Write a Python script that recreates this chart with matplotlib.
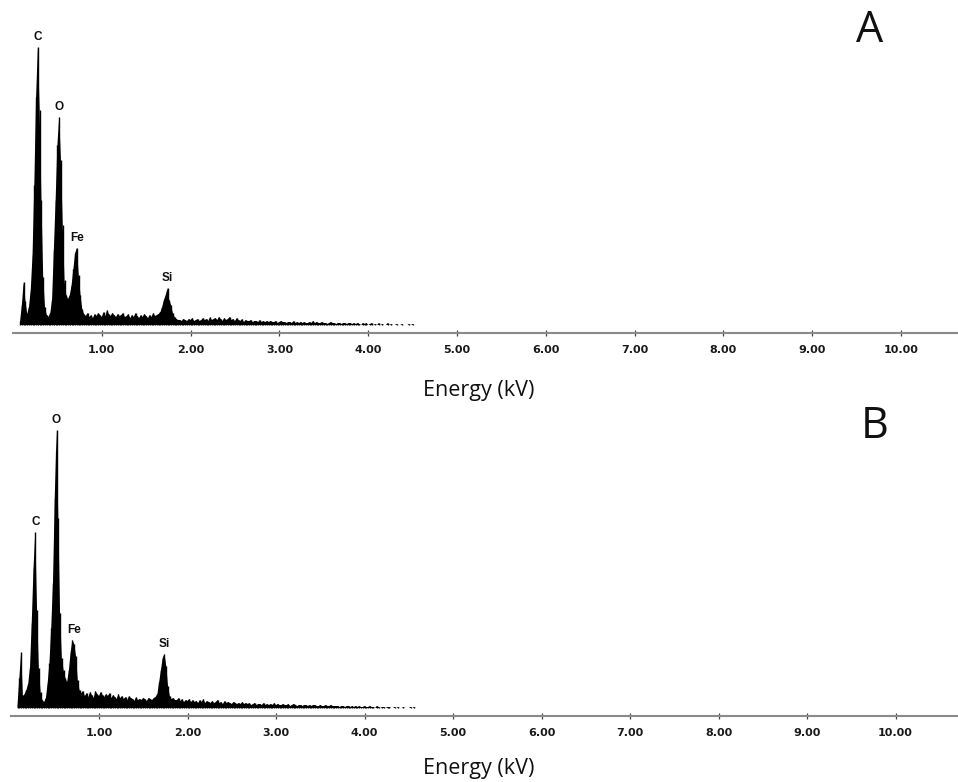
"""EDS spectra of the two samples (panels A and B)."""

import matplotlib

matplotlib.use("Agg")
import matplotlib.pyplot as plt
import numpy as np

# channel grid of the spectra (kV)
ENERGY_START = 0.08
ENERGY_STEP = 0.02

# counts per channel (arbitrary units), 0.08 .. 4.58 kV
COUNTS_A = [
    4, 20, 43, 24, 11, 18, 35, 70, 140, 228,
    278, 215, 125, 48, 18, 10, 8, 12, 25, 75,
    125, 180, 208, 165, 100, 45, 30, 26, 30, 40,
    56, 72, 77, 50, 30, 16, 11, 9, 12, 8,
    10, 7, 11, 9, 12, 10, 8, 13, 9, 15,
    11, 9, 12, 10, 8, 11, 9, 10, 12, 8,
    9, 11, 7, 10, 8, 12, 9, 7, 10, 8,
    11, 9, 7, 10, 8, 12, 9, 10, 11, 13,
    18, 25, 30, 37, 25, 20, 12, 8, 6, 5,
    5, 4, 6, 5, 4, 6, 5, 7, 4, 5,
    6, 4, 5, 7, 5, 6, 4, 8, 5, 6,
    7, 5, 8, 6, 4, 7, 5, 6, 8, 5,
    6, 4, 7, 5, 4, 6, 3, 5, 4, 4,
    5, 3, 4, 4, 3, 5, 3, 4, 3, 4,
    3, 4, 3, 3, 4, 2, 3, 4, 3, 3,
    2, 3, 3, 2, 4, 2, 3, 2, 3, 2,
    3, 2, 2, 3, 2, 4, 2, 3, 2, 2,
    3, 2, 2, 1, 2, 3, 2, 2, 1, 2,
    2, 1, 2, 2, 1, 2, 2, 1, 2, 1,
    2, 1, 0, 2, 1, 2, 0, 1, 2, 0,
    1, 0, 2, 0, 1, 0, 0, 2, 0, 1,
    0, 0, 1, 0, 0, 1, 0, 0, 0, 1,
    0, 1, 0, 0, 0, 0,
]

COUNTS_B = [
    4, 30, 56, 12, 14, 18, 24, 40, 85, 140,
    176, 98, 40, 16, 8, 6, 10, 25, 45, 80,
    125, 210, 278, 190, 95, 50, 38, 30, 26, 38,
    56, 68, 64, 52, 28, 18, 15, 17, 12, 15,
    11, 16, 13, 10, 17, 14, 12, 16, 13, 11,
    14, 12, 15, 10, 13, 11, 9, 14, 10, 12,
    9, 11, 8, 12, 10, 9, 7, 11, 8, 9,
    8, 10, 9, 7, 10, 9, 8, 10, 11, 14,
    26, 38, 50, 54, 42, 22, 12, 9, 10, 8,
    8, 10, 7, 9, 6, 8, 7, 9, 6, 8,
    6, 7, 5, 8, 6, 9, 5, 7, 6, 5,
    7, 5, 6, 8, 5, 6, 4, 7, 5, 6,
    5, 4, 6, 5, 4, 5, 4, 6, 4, 5,
    4, 5, 3, 4, 5, 3, 4, 4, 3, 5,
    3, 4, 3, 4, 3, 5, 3, 4, 3, 3,
    4, 3, 3, 4, 2, 3, 4, 3, 2, 3,
    3, 2, 3, 3, 2, 3, 2, 3, 3, 2,
    2, 3, 2, 2, 3, 2, 2, 3, 2, 2,
    2, 2, 1, 2, 2, 1, 2, 2, 1, 2,
    1, 2, 1, 2, 1, 1, 2, 1, 1, 2,
    1, 1, 0, 2, 1, 0, 1, 1, 0, 1,
    1, 0, 0, 1, 0, 1, 0, 0, 1, 0,
    0, 0, 1, 0, 1, 0,
]

ELEMENTS = ["C", "O", "Fe", "Si"]
ELEMENT_ENERGY = [0.28, 0.52, 0.72, 1.74]

TICKS = [1, 2, 3, 4, 5, 6, 7, 8, 9, 10]
TICK_LABELS = [f"{t:.2f}" for t in TICKS]

W, H = 958, 782
TICK_FONT = ["DejaVu Sans Condensed", "Liberation Sans Narrow", "DejaVu Sans"]


def px_box(left, top, right, bottom):
    return [left / W, 1 - bottom / H, (right - left) / W, (bottom - top) / H]


def draw_panel(fig, box, counts, xmax, ylim, letter, letter_xy, label_y):
    ax = fig.add_axes(box)
    energy = ENERGY_START + ENERGY_STEP * np.arange(len(counts))
    counts = np.array(counts, dtype=float)
    # keep the fill off the empty channels of the tail, so it stays dotted
    ax.fill_between(energy, counts, where=np.convolve(counts > 0, [1, 1, 1], "same") > 0,
                    interpolate=False, color="black", linewidth=0)
    ax.vlines(energy[counts > 0], 0, counts[counts > 0], color="black", linewidth=1.0)

    for name, e in zip(ELEMENTS, ELEMENT_ENERGY):
        near = np.abs(energy - e) < 0.03
        peak = counts[near].max()
        ax.annotate(name, xy=(e, peak), xytext=(0, 3), textcoords="offset points",
                    ha="center", va="bottom", fontsize=8.5, fontweight="bold",
                    family=["Liberation Sans", "DejaVu Sans"], color="#111111")

    ax.set_xlim(0, xmax)
    ax.set_ylim(*ylim)
    ax.set_yticks([])
    ax.set_xticks(TICKS)
    ax.set_xticklabels(TICK_LABELS, fontsize=8, fontweight="bold", family=TICK_FONT,
                       color="#1a1a1a")
    ax.tick_params(axis="x", direction="inout", length=5, width=0.9, color="#444444",
                   pad=6)
    for side in ["top", "right", "left"]:
        ax.spines[side].set_visible(False)
    ax.spines["bottom"].set_color("#8a8a8a")
    ax.spines["bottom"].set_linewidth(1.5)
    ax.patch.set_alpha(0)

    fig.text(479 / W, 1 - label_y / H, "Energy (kV)", ha="center", va="baseline",
             fontsize=15.5, family=["Open Sans", "DejaVu Sans"], color="#111111")
    fig.text(letter_xy[0] / W, 1 - letter_xy[1] / H, letter, ha="center", va="center",
             fontsize=31, family=["Open Sans", "DejaVu Sans"], color="#111111")
    return ax


def main():
    fig = plt.figure(figsize=(W / 100, H / 100), dpi=100)
    fig.patch.set_facecolor("white")

    draw_panel(fig, px_box(13, 30, W, 333), COUNTS_A, (W - 13) / 88.8, (-8, 295),
               "A", (870, 31), 396)
    draw_panel(fig, px_box(10.5, 410, W, 716), COUNTS_B, (W - 10.5) / 88.5, (-8, 298),
               "B", (875, 427), 774)

    fig.savefig("out.png", dpi=100)
    plt.close(fig)


if __name__ == "__main__":
    main()
